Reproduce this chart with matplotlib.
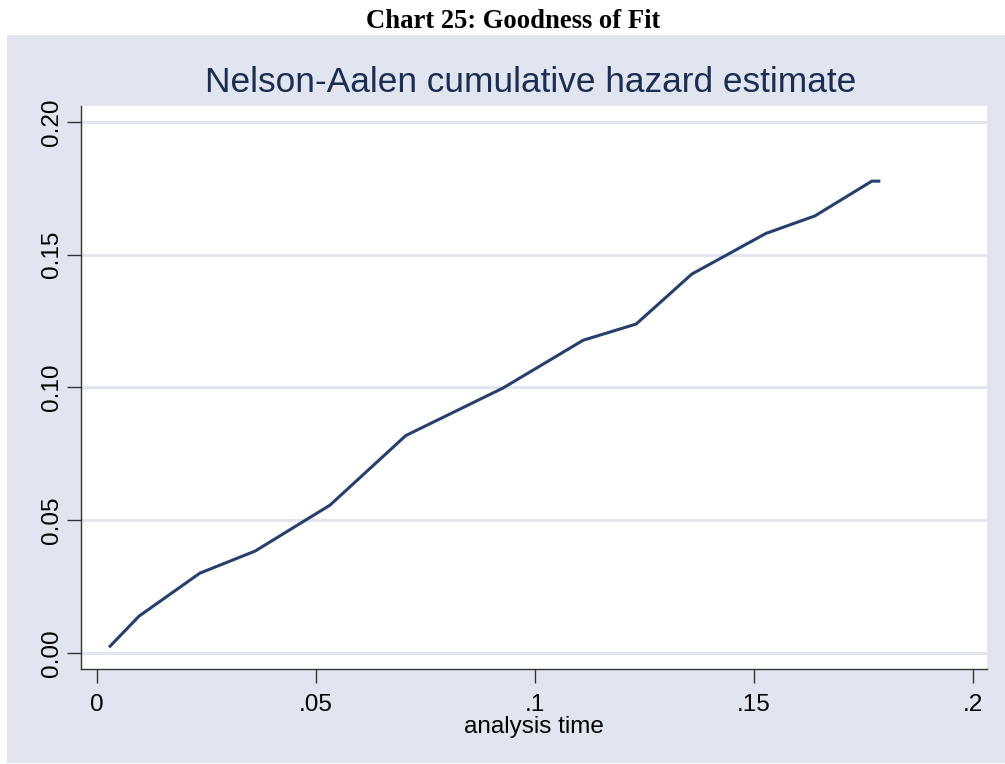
import matplotlib
matplotlib.use("Agg")
import matplotlib.pyplot as plt
from matplotlib.patches import Rectangle

# Nelson-Aalen estimate
analysis_time = [0.0030, 0.0096, 0.0235, 0.0361, 0.0532, 0.0705, 0.0927,
                 0.1110, 0.1231, 0.1358, 0.1527, 0.1639, 0.1769, 0.1785]
cum_hazard = [0.0026, 0.0139, 0.0301, 0.0384, 0.0557, 0.0819, 0.0998,
              0.1178, 0.1239, 0.1427, 0.1580, 0.1646, 0.1777, 0.1777]

x_ticks = [0, 0.05, 0.1, 0.15, 0.2]
x_labels = ["0", ".05", ".1", ".15", ".2"]
y_ticks = [0.0, 0.05, 0.10, 0.15, 0.20]
y_labels = ["0.00", "0.05", "0.10", "0.15", "0.20"]

W, H = 1005, 764
bg = "#e0e5f0"
navy = "#263f6c"

plt.rcParams["font.family"] = ["Liberation Sans", "DejaVu Sans"]

fig = plt.figure(figsize=(W / 100, H / 100), dpi=100)
fig.patch.set_facecolor("white")

# Stata style panel behind the graph
fig.patches.append(Rectangle((7 / W, 1 / H), 1 - 7 / W, (763 - 35) / H,
                             transform=fig.transFigure, facecolor=bg,
                             edgecolor="none", zorder=-5))

fig.text(513 / W, 1 - 21 / H, "Chart 25: Goodness of Fit", ha="center",
         va="center", fontsize=19.2, fontweight="bold",
         family=["Liberation Serif", "DejaVu Serif"])
fig.text(531 / W, 1 - 82 / H, "Nelson-Aalen cumulative hazard estimate",
         ha="center", va="center", fontsize=25.4, color="#1c2d52")

left, right, top, bottom = 81, 987, 106, 669
ax = fig.add_axes([left / W, 1 - bottom / H, (right - left) / W, (bottom - top) / H])
ax.set_facecolor("white")

ax.plot(analysis_time, cum_hazard, color=navy, lw=2.2, solid_joinstyle="miter", zorder=3)

ax.set_xlim(-0.00365, 0.2032)
ax.set_ylim(-0.006, 0.206)

ax.set_yticks(y_ticks)
ax.set_yticklabels(y_labels, rotation=90, va="center", fontsize=17.5)
ax.set_xticks(x_ticks)
ax.set_xticklabels(x_labels, fontsize=17.5)
ax.tick_params(axis="both", direction="out", length=10, width=1, color="#333333")
ax.tick_params(axis="y", pad=3)
ax.tick_params(axis="x", pad=8)

ax.grid(axis="y", color=bg, lw=2.2, zorder=1)
ax.grid(axis="x", visible=False)

for s in ["top", "right"]:
    ax.spines[s].set_visible(False)
for s in ["left", "bottom"]:
    ax.spines[s].set_color("#333333")
    ax.spines[s].set_linewidth(1)

ax.set_xlabel("analysis time", fontsize=17.5, labelpad=0)

fig.savefig("out.png", dpi=100)
